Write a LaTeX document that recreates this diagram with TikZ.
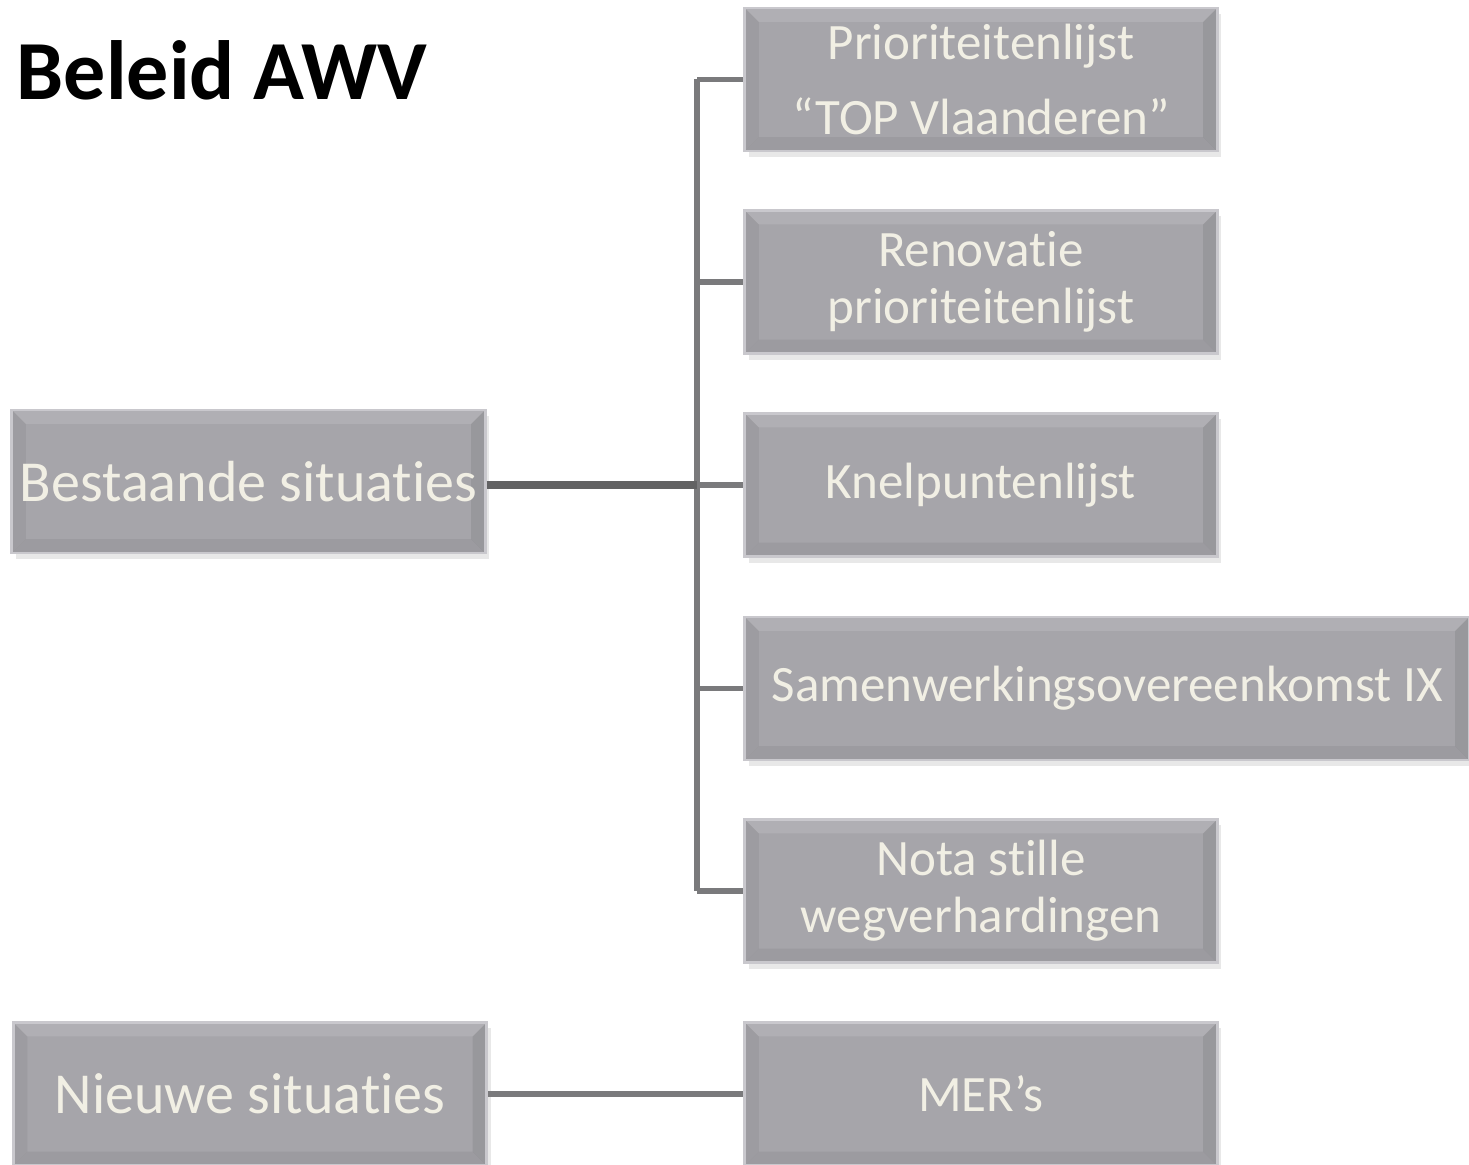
\documentclass[tikz,border=0pt]{standalone}
\usepackage{fontspec}
\setmainfont{Carlito}[Ligatures=NoCommon]
\usetikzlibrary{positioning}
\usetikzlibrary{shadows}
\definecolor{boxColor}{HTML}{A6A5AA}
\definecolor{edgeColor}{HTML}{C9C8CD}
\definecolor{textColor}{HTML}{F1EFE4}
\definecolor{lineColor}{HTML}{7A7A7C}

\tikzset{
  bevelbox/.style={draw=edgeColor, line width=0.8pt, fill=boxColor,
    text=textColor, align=center, inner sep=0pt,
    font=\fontsize{14.5pt}{16.2pt}\selectfont,
    drop shadow={shadow xshift=0.4mm, shadow yshift=-0.6mm, opacity=0.18},
    path picture={
      \fill[white, opacity=0.12] (path picture bounding box.north west)
        -- (path picture bounding box.north east)
        -- ([xshift=-0.14cm,yshift=-0.14cm]path picture bounding box.north east)
        -- ([xshift=0.14cm,yshift=-0.14cm]path picture bounding box.north west) -- cycle;
      \fill[black, opacity=0.05] (path picture bounding box.north west)
        -- ([xshift=0.14cm,yshift=-0.14cm]path picture bounding box.north west)
        -- ([xshift=0.14cm,yshift=0.14cm]path picture bounding box.south west)
        -- (path picture bounding box.south west) -- cycle;
      \fill[black, opacity=0.06] (path picture bounding box.south west)
        -- (path picture bounding box.south east)
        -- ([xshift=-0.14cm,yshift=0.14cm]path picture bounding box.south east)
        -- ([xshift=0.14cm,yshift=0.14cm]path picture bounding box.south west) -- cycle;
      \fill[black, opacity=0.08] (path picture bounding box.north east)
        -- (path picture bounding box.south east)
        -- ([xshift=-0.14cm,yshift=0.14cm]path picture bounding box.south east)
        -- ([xshift=-0.14cm,yshift=-0.14cm]path picture bounding box.north east) -- cycle;
    }},
  rightbox/.style={bevelbox, minimum width=4.72cm, minimum height=1.43cm},
  leftbox/.style={bevelbox, minimum width=4.73cm, minimum height=1.43cm,
    font=\fontsize{16.5pt}{19pt}\selectfont},
  conn/.style={draw=lineColor, line width=1.6pt},
  mainconn/.style={draw=lineColor!80!black, line width=2.2pt}
}

\begin{document}
\begin{tikzpicture}[x=0.01cm, y=-0.01cm]
  \useasboundingbox (0,0) rectangle (1469,1165);

  \node[anchor=west, inner sep=0pt, font=\fontsize{23.9pt}{28pt}\selectfont\bfseries] (title) at (16,70) {Beleid AWV};

  % linker kolom
  \node[leftbox] (bestaande) at (248.5,481.5) {Bestaande situaties};
  \node[leftbox] (nieuwe) at (250,1094) {Nieuwe situaties};

  % rechter kolom
  \node[rightbox] (prio) at (981,79.5) {Prioriteitenlijst\\[5.4pt]\textquotedblleft TOP Vlaanderen\textquotedblright};
  \node[rightbox] (reno) at (981,282) {Renovatie\\prioriteitenlijst};
  \node[rightbox] (knel) at (981,485) {Knelpuntenlijst};
  \node[bevelbox, minimum width=7.24cm, minimum height=1.43cm] (samen) at (1107,688.5) {Samenwerkingsovereenkomst IX};
  \node[rightbox] (nota) at (981,891) {Nota stille\\wegverhardingen};
  \node[rightbox] (mers) at (981,1094) {MER\textquoteright s};

  % verbindingen
  \coordinate (hub) at (697,485);
  \draw[conn] (prio.west -| hub) -- (nota.west -| hub);
  \foreach \n in {prio,reno,knel,samen,nota}
    \draw[conn] (hub |- \n.west) -- (\n.west);
  \draw[mainconn] (bestaande.east |- hub) -- (hub);
  \draw[conn] (nieuwe.east) -- (mers.west);
\end{tikzpicture}
\end{document}
